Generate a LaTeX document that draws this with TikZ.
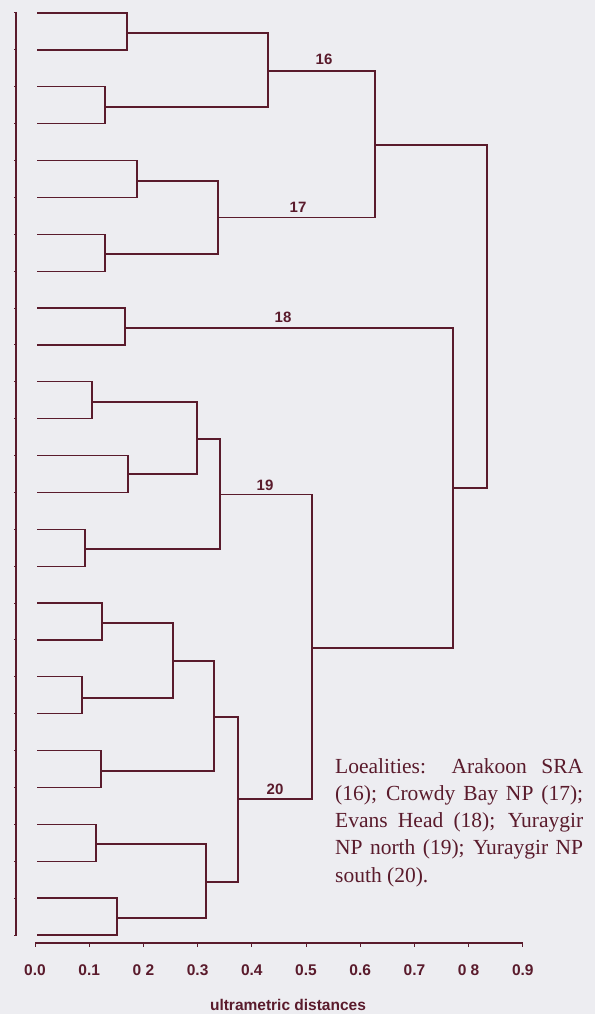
\documentclass[tikz,border=0pt]{standalone}
\usepackage{fontspec}
\setmainfont{Liberation Serif}
\newfontfamily\labelfont{Liberation Sans}
\usepackage{xcolor}
\definecolor{Ink}{HTML}{5A1B2C}
\definecolor{Paper}{HTML}{EDEDF1}
\tolerance=9999
\hyphenpenalty=10000

\begin{document}
\begin{tikzpicture}[x=1pt, y=-1pt,
  link/.style={draw=Ink, line width=1.3pt},
  tickmark/.style={draw=Ink, line width=1pt},
  clab/.style={font=\labelfont\bfseries\fontsize{15}{15}\selectfont, text=Ink, inner sep=0pt},
  alab/.style={font=\labelfont\bfseries\fontsize{15.5}{15.5}\selectfont, text=Ink, inner sep=0pt, anchor=base},
  note/.style={font=\fontsize{21.5}{27.3}\selectfont, text=Ink, text width=248pt,
               align=justify, inner sep=0pt, anchor=base west}
]

\fill[Paper] (0,0) rectangle (595,1014);

%% ---- Leaves ----
\foreach \i in {1,...,26}
  \coordinate (l\i) at (37, {13+36.88*(\i-1)});

%% ---- Locality 16 ----
\coordinate (j1)  at (127, 33);
\coordinate (j2)  at (105, 107);
\coordinate (k16) at (268, 71);

%% ---- Locality 17 ----
\coordinate (j3)  at (137, 181);
\coordinate (j4)  at (105, 254);
\coordinate (k17) at (218, 217.5);
\coordinate (kA)  at (375, 145);

%% ---- Locality 18 ----
\coordinate (k18) at (125, 328);

%% ---- Locality 19 ----
\coordinate (j5)  at (92, 402);
\coordinate (j6)  at (128, 474);
\coordinate (j7)  at (197, 439);
\coordinate (j8)  at (85, 549);
\coordinate (k19) at (220, 494.5);

%% ---- Locality 20 ----
\coordinate (j9)  at (102, 623);
\coordinate (j10) at (82, 698);
\coordinate (j11) at (173, 661);
\coordinate (j12) at (101, 771);
\coordinate (j13) at (214, 717);
\coordinate (j14) at (96, 844);
\coordinate (j15) at (117, 918);
\coordinate (j16) at (206, 882);
\coordinate (k20) at (238, 799);

%% ---- Upper joins ----
\coordinate (kB)   at (312, 648);
\coordinate (kC)   at (453, 488);
\coordinate (root) at (487, 314);

%% ---- Brackets ----
\draw[link] (l1) -| (j1) |- (l2);
\draw[link] (l3) -| (j2) |- (l4);
\draw[link] (j1) -| (k16) |- (j2);
\draw[link] (l5) -| (j3) |- (l6);
\draw[link] (l7) -| (j4) |- (l8);
\draw[link] (j3) -| (k17) |- (j4);
\draw[link] (k16) -| (kA) |- (k17);
\draw[link] (l9) -| (k18) |- (l10);
\draw[link] (l11) -| (j5) |- (l12);
\draw[link] (l13) -| (j6) |- (l14);
\draw[link] (j5) -| (j7) |- (j6);
\draw[link] (l15) -| (j8) |- (l16);
\draw[link] (j7) -| (k19) |- (j8);
\draw[link] (l17) -| (j9) |- (l18);
\draw[link] (l19) -| (j10) |- (l20);
\draw[link] (j9) -| (j11) |- (j10);
\draw[link] (l21) -| (j12) |- (l22);
\draw[link] (j11) -| (j13) |- (j12);
\draw[link] (l23) -| (j14) |- (l24);
\draw[link] (l25) -| (j15) |- (l26);
\draw[link] (j14) -| (j16) |- (j15);
\draw[link] (j13) -| (k20) |- (j16);
\draw[link] (k19) -| (kB) |- (k20);
\draw[link] (k18) -| (kC) |- (kB);
\draw[link] (kA) -| (root) |- (kC);

%% ---- Cluster labels ----
\node[clab] (c16) at (324, 59.5) {16};
\node[clab] (c17) at (298, 207) {17};
\node[clab] (c18) at (283, 317.5) {18};
\node[clab] (c19) at (265, 485) {19};
\node[clab] (c20) at (275, 789) {20};

%% ---- Object axis on the left ----
\coordinate (ytop) at (16, 12);
\coordinate (ybot) at (16, 936);
\draw[link] (ytop) -- (ybot);
\foreach \i in {1,...,26}
  \draw[tickmark] (l\i -| ytop) -- ++(-2.5,0);

%% ---- Distance axis ----
\coordinate (xorg) at (35, 943);
\coordinate (xend) at (523, 943);
\draw[link, line width=1.6pt] (xorg) -- (xend);
\foreach \i/\t in {0/0.0, 1/0.1, 2/0 2, 3/0.3, 4/0.4, 5/0.5, 6/0.6, 7/0.7, 8/0 8, 9/0.9} {
  \draw[tickmark] ({35+54.2*\i}, 943) -- ++(0, 3.5);
  \node[alab] (t\i) at ({35+54.2*\i}, 975) {\t};
}
\node[alab] (xtitle) at (288, 1010) {ultrametric distances};

%% ---- Caption ----
\node[note] (loc) at (335, 773) {Loealities: Arakoon SRA\linebreak
  (16); Crowdy Bay NP (17);\linebreak
  Evans Head (18); Yuraygir\linebreak
  NP north (19); Yuraygir NP\linebreak
  south (20).};

\end{tikzpicture}
\end{document}
